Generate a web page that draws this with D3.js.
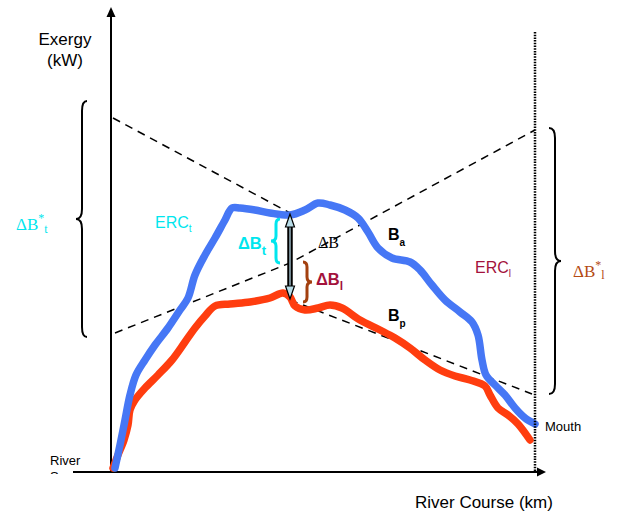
<!DOCTYPE html>
<html>
<head>
<meta charset="utf-8">
<script src="https://cdn.jsdelivr.net/npm/d3@7"></script>
<style>
  html, body { margin: 0; padding: 0; background: #fff; }
  svg { display: block; }
  .sans { font-family: "Liberation Sans", Arial, sans-serif; }
  .serif { font-family: "Liberation Serif", "Times New Roman", serif; }
</style>
</head>
<body>
<svg id="chart" width="622" height="514"></svg>
<script>
// River course (km from source) and exergy (kW) of the actual river, B_a
const actualKm = [2, 7, 12, 17, 23, 32, 42, 55, 67, 75, 82, 92, 102, 112, 119, 127, 142, 157, 177, 192, 205, 217, 232, 245, 255, 265, 279, 297, 307, 319, 332, 347, 359, 365, 369, 373, 382, 392, 402, 412, 422];
const actualExergy = [2, 25, 50, 75, 95, 110, 125, 142, 160, 172, 195, 215, 232, 250, 262, 262, 260, 257, 255, 260, 267, 265, 260, 252, 238, 222, 212, 208, 200, 185, 170, 158, 148, 135, 110, 95, 85, 75, 62, 52, 46];

// Exergy of the potential (pristine) river, B_p
const potentialKm = [0, 5, 11, 15, 17, 22, 32, 45, 59, 72, 82, 92, 102, 117, 137, 157, 170, 177, 182, 192, 205, 217, 229, 247, 267, 282, 297, 312, 327, 342, 357, 372, 377, 385, 395, 405, 417];
const potentialExergy = [2, 15, 30, 45, 60, 70, 82, 95, 110, 128, 142, 154, 164, 166, 168, 172, 177, 173, 164, 160, 162, 165, 162, 150, 140, 132, 122, 110, 100, 94, 90, 84, 75, 62, 55, 46, 30];

// Reference cost lines (km, kW)
const ercTUpperKm = [0, 177];
const ercTUpperExergy = [352, 257];
const ercTLowerKm = [177, 419];
const ercTLowerExergy = [170, 76];
const ercLKm = [2, 177, 422];
const ercLExergy = [137, 207, 340];

// Station where the exergy gaps are measured
const stationKm = 177;

const svg = d3.select("#chart");

const x = d3.scaleLinear().domain([0, 422]).range([113, 535]);
const y = d3.scaleLinear().domain([0, 450]).range([470, 20]);

const zip = (a, b) => a.map((v, i) => [v, b[i]]);

const smooth = d3.line().x(d => x(d[0])).y(d => y(d[1])).curve(d3.curveCatmullRom.alpha(0.5));
const straight = d3.line().x(d => x(d[0])).y(d => y(d[1]));

// ---- Axes ----
const axisX = 111, axisY = 472;
svg.append("line").attr("x1", axisX).attr("x2", axisX).attr("y1", axisY).attr("y2", 16)
  .attr("stroke", "#000").attr("stroke-width", 2);
svg.append("path").attr("d", `M${axisX},7 L${axisX - 4.5},17 L${axisX + 4.5},17 Z`).attr("fill", "#000");

svg.append("line").attr("x1", 73).attr("x2", 538).attr("y1", axisY).attr("y2", axisY)
  .attr("stroke", "#000").attr("stroke-width", 2);
svg.append("path").attr("d", `M546,${axisY} L537,${axisY - 4.5} L537,${axisY + 4.5} Z`).attr("fill", "#000");

// ---- Reference cost lines ----
[[ercTUpperKm, ercTUpperExergy], [ercTLowerKm, ercTLowerExergy], [ercLKm, ercLExergy]].forEach(([k, e]) => {
  svg.append("path").attr("d", straight(zip(k, e)))
    .attr("fill", "none").attr("stroke", "#000").attr("stroke-width", 1.5)
    .attr("stroke-dasharray", "8,6");
});

// ---- Exergy profiles ----
svg.append("path").attr("d", smooth(zip(potentialKm, potentialExergy)))
  .attr("fill", "none").attr("stroke", "#ff3d0f").attr("stroke-width", 7.5)
  .attr("stroke-linecap", "round").attr("stroke-linejoin", "round");
svg.append("path").attr("d", smooth(zip(actualKm, actualExergy)))
  .attr("fill", "none").attr("stroke", "#4677f5").attr("stroke-width", 7.5)
  .attr("stroke-linecap", "round").attr("stroke-linejoin", "round");

// Mouth marker (dotted vertical)
svg.append("line").attr("x1", x(422)).attr("x2", x(422)).attr("y1", 32).attr("y2", axisY + 1)
  .attr("stroke", "#000").attr("stroke-width", 2.5).attr("stroke-dasharray", "1.5,1.2");

// ---- Double arrow ΔB between the two profiles ----
const sx = x(stationKm);
const yTop = y(257) + 1, yBot = y(170) - 1;
svg.append("line").attr("x1", sx).attr("x2", sx).attr("y1", yTop + 8).attr("y2", yBot - 8)
  .attr("stroke", "#000").attr("stroke-width", 5.5);
svg.append("line").attr("x1", sx).attr("x2", sx).attr("y1", yTop + 8).attr("y2", yBot - 8)
  .attr("stroke", "#9ab4c0").attr("stroke-width", 1.5);
svg.append("path").attr("d", `M${sx},${yTop} L${sx - 4.5},${yTop + 13} L${sx + 4.5},${yTop + 13} Z`)
  .attr("fill", "#b8dce8").attr("stroke", "#000").attr("stroke-width", 1.2);
svg.append("path").attr("d", `M${sx},${yBot} L${sx - 4.5},${yBot - 13} L${sx + 4.5},${yBot - 13} Z`)
  .attr("fill", "#b8dce8").attr("stroke", "#000").attr("stroke-width", 1.2);

// ---- Curly braces ----
// dir = -1 : tip points left "{", dir = 1 : tip points right "}"
function brace(xs, y1, y2, dir, hook, tip, r) {
  const ym = (y1 + y2) / 2;
  const h = -dir * hook, t = dir * tip;
  return `M${xs + h},${y1} Q${xs},${y1} ${xs},${y1 + r} L${xs},${ym - r} Q${xs},${ym} ${xs + t},${ym}` +
         ` Q${xs},${ym} ${xs},${ym + r} L${xs},${y2 - r} Q${xs},${y2} ${xs + h},${y2}`;
}
svg.append("path").attr("d", brace(82, 101, 337, -1, 5, 6, 10))
  .attr("fill", "none").attr("stroke", "#000").attr("stroke-width", 2);
svg.append("path").attr("d", brace(555, 128, 394, 1, 6, 6, 10))
  .attr("fill", "none").attr("stroke", "#000").attr("stroke-width", 2);
svg.append("path").attr("d", brace(276, 219, 263, -1, 4, 5, 5))
  .attr("fill", "none").attr("stroke", "#00e6ee").attr("stroke-width", 3);
svg.append("path").attr("d", brace(307, 262, 302, 1, 4, 5, 5))
  .attr("fill", "none").attr("stroke", "#a3400f").attr("stroke-width", 3);

// ---- Text ----
function label(xp, yp, cls, size, color, weight, parts) {
  const t = svg.append("text").attr("x", xp).attr("y", yp).attr("class", cls)
    .attr("font-size", size).attr("fill", color).attr("font-weight", weight || "normal");
  parts.forEach(p => {
    const s = t.append("tspan").text(p.text);
    if (p.dy) s.attr("dy", p.dy);
    if (p.size) s.attr("font-size", p.size);
  });
  return t;
}

label(65, 45, "sans", 17, "#000", "normal", [{ text: "Exergy" }]).attr("text-anchor", "middle");
label(65, 66, "sans", 17, "#000", "normal", [{ text: "(kW)" }]).attr("text-anchor", "middle");
label(415, 508, "sans", 17, "#000", "normal", [{ text: "River Course (km)" }]);

label(545, 431, "sans", 13, "#000", "normal", [{ text: "Mouth" }]);

// River source label, clipped by the course axis
svg.append("clipPath").attr("id", "srcClip").append("rect")
  .attr("x", 0).attr("y", 440).attr("width", 110).attr("height", 34);
const src = svg.append("g").attr("clip-path", "url(#srcClip)");
src.append("text").attr("x", 50).attr("y", 465).attr("class", "sans").attr("font-size", 13).text("River");
src.append("text").attr("x", 50).attr("y", 481).attr("class", "sans").attr("font-size", 13).text("Source");

label(155, 228, "sans", 16, "#00e6ee", "normal", [{ text: "ERC" }, { text: "t", dy: 4, size: 10 }]);
label(475, 273, "sans", 16, "#a3123c", "normal", [{ text: "ERC" }, { text: "l", dy: 4, size: 10 }]);

label(16, 230, "serif", 17, "#00e6ee", "normal",
  [{ text: "ΔB" }, { text: "*", dy: -8, size: 12 }, { text: "t", dy: 11, size: 12 }]);
label(573, 277, "serif", 17, "#b44a14", "normal",
  [{ text: "ΔB" }, { text: "*", dy: -8, size: 12 }, { text: "l", dy: 10, size: 12 }]);

label(238, 249, "sans", 16.5, "#00e6ee", "bold", [{ text: "ΔB" }, { text: "t", dy: 6, size: 13 }]);
label(318, 248, "serif", 16, "#000", "normal", [{ text: "ΔB" }]);
label(316, 285, "sans", 16.5, "#a3123c", "bold", [{ text: "ΔB" }, { text: "l", dy: 5, size: 12 }]);

label(388, 240, "sans", 16, "#000", "bold", [{ text: "B" }, { text: "a", dy: 6, size: 10 }]);
label(388, 321, "sans", 16, "#000", "bold", [{ text: "B" }, { text: "p", dy: 6, size: 10 }]);
</script>
</body>
</html>
